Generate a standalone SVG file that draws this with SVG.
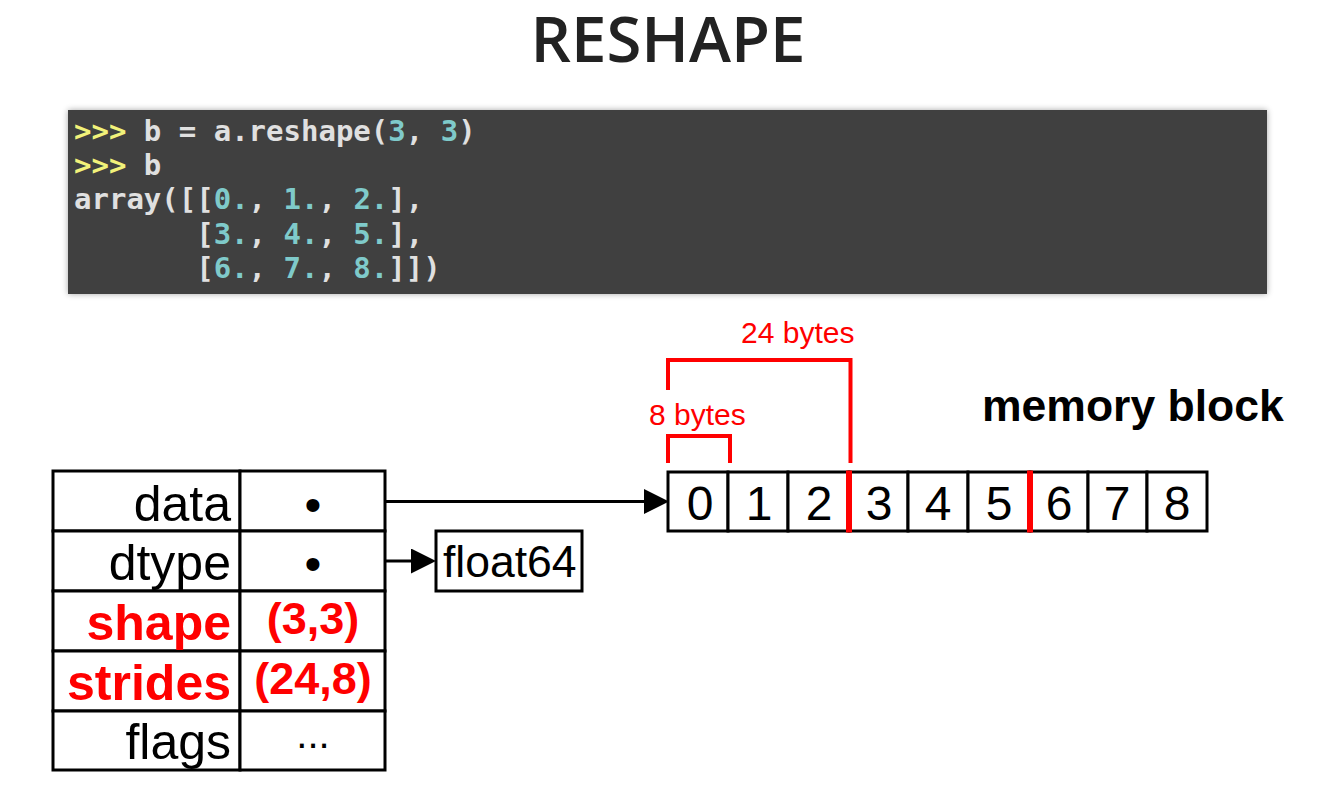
<svg xmlns="http://www.w3.org/2000/svg" width="1326" height="807" viewBox="0 0 1326 807">
<style>
.title{font-family:"Open Sans","Noto Sans",sans-serif;font-weight:600;font-size:63.5px;fill:#222}
.code{font-family:"DejaVu Sans Mono",monospace;font-weight:bold;font-size:29px;fill:#e0e0e0}
.p{fill:#f2f27a}
.n{fill:#7fcaca}
.cell{fill:#fff;stroke:#000;stroke-width:3}
.lbl{font-family:"Liberation Sans",Arial,sans-serif;font-size:50px;fill:#000;text-anchor:end}
.lblr{font-family:"Liberation Sans",Arial,sans-serif;font-size:50px;font-weight:bold;fill:#f00;text-anchor:end}
.val{font-family:"Liberation Sans",Arial,sans-serif;font-size:48px;fill:#000;text-anchor:middle}
.valr{font-family:"Liberation Sans",Arial,sans-serif;font-size:45px;font-weight:bold;fill:#f00;text-anchor:middle}
.dig{font-family:"Liberation Sans",Arial,sans-serif;font-size:48px;fill:#000;text-anchor:middle}
.red{font-family:"Liberation Sans",Arial,sans-serif;font-size:30px;fill:#f00}
.brk{fill:none;stroke:#f00;stroke-width:4}
.sep{stroke:#f00;stroke-width:6}
.conn{stroke:#000;stroke-width:3;fill:none}
</style>
<defs>
<filter id="sh" x="-5%" y="-20%" width="110%" height="140%">
<feGaussianBlur in="SourceAlpha" stdDeviation="3"/>
<feComponentTransfer><feFuncA type="linear" slope="0.35"/></feComponentTransfer>
<feMerge><feMergeNode/><feMergeNode in="SourceGraphic"/></feMerge>
</filter>
<marker id="ah" markerUnits="userSpaceOnUse" viewBox="0 0 10 10" markerWidth="25" markerHeight="25" refX="0" refY="5" orient="auto">
<path d="M0,0 L10,5 L0,10 z" fill="#000"/>
</marker>
</defs>
<rect width="1326" height="807" fill="#fff"/>
<text class="title" x="668" y="62" text-anchor="middle">RESHAPE</text>

<g id="code">
<rect x="68" y="110" width="1199" height="184" fill="#3f3f3f" filter="url(#sh)"/>
<text class="code" x="74" y="141"><tspan class="p">&gt;&gt;&gt;</tspan> b = a.reshape(<tspan class="n">3</tspan>, <tspan class="n">3</tspan>)</text>
<text class="code" x="74" y="175"><tspan class="p">&gt;&gt;&gt;</tspan> b</text>
<text class="code" x="74" y="209">array([[<tspan class="n">0.</tspan>, <tspan class="n">1.</tspan>, <tspan class="n">2.</tspan>],</text>
<text class="code" x="196.2" y="244">[<tspan class="n">3.</tspan>, <tspan class="n">4.</tspan>, <tspan class="n">5.</tspan>],</text>
<text class="code" x="196.2" y="278">[<tspan class="n">6.</tspan>, <tspan class="n">7.</tspan>, <tspan class="n">8.</tspan>]])</text>
</g>

<g id="connectors">
<line class="conn" x1="385" y1="501.5" x2="644" y2="501.5" marker-end="url(#ah)"/>
<line class="conn" x1="385" y1="561" x2="411" y2="561" marker-end="url(#ah)"/>
</g>

<g id="ndarray">
<rect class="cell" x="53" y="471" width="187" height="60"/>
<rect class="cell" x="240" y="471" width="145" height="60"/>
<rect class="cell" x="53" y="531" width="187" height="60"/>
<rect class="cell" x="240" y="531" width="145" height="60"/>
<rect class="cell" x="53" y="591" width="187" height="60"/>
<rect class="cell" x="240" y="591" width="145" height="60"/>
<rect class="cell" x="53" y="651" width="187" height="60"/>
<rect class="cell" x="240" y="651" width="145" height="60"/>
<rect class="cell" x="53" y="711" width="187" height="59"/>
<rect class="cell" x="240" y="711" width="145" height="59"/>
<text class="lbl" x="231" y="521">data</text>
<text class="lbl" x="231" y="580">dtype</text>
<text class="lblr" x="231" y="640">shape</text>
<text class="lblr" x="231" y="700">strides</text>
<text class="lbl" x="231" y="759">flags</text>
<text class="val" x="313" y="521">•</text>
<text class="val" x="313" y="580">•</text>
<text class="valr" x="313" y="634">(3,3)</text>
<text class="valr" x="313" y="694">(24,8)</text>
<text class="val" x="313" y="748" style="font-size:40px">...</text>
</g>

<g id="dtype">
<rect class="cell" x="436" y="531" width="146" height="60" stroke-width="2.5"/>
<text class="lbl" x="443" y="577" style="text-anchor:start;font-size:44.5px">float64</text>
</g>

<g id="memory">
<rect class="cell" x="668" y="472" width="60" height="59"/>
<rect class="cell" x="728" y="472" width="60" height="59"/>
<rect class="cell" x="788" y="472" width="61" height="59"/>
<rect class="cell" x="849" y="472" width="59" height="59"/>
<rect class="cell" x="908" y="472" width="60" height="59"/>
<rect class="cell" x="968" y="472" width="62" height="59"/>
<rect class="cell" x="1030" y="472" width="58" height="59"/>
<rect class="cell" x="1088" y="472" width="59" height="59"/>
<rect class="cell" x="1147" y="472" width="60" height="59"/>
<line class="sep" x1="849" y1="470.5" x2="849" y2="532.5"/>
<line class="sep" x1="1030" y1="470.5" x2="1030" y2="532.5"/>
<text class="dig" x="700" y="520">0</text>
<text class="dig" x="759" y="520">1</text>
<text class="dig" x="819" y="520">2</text>
<text class="dig" x="879" y="520">3</text>
<text class="dig" x="938" y="520">4</text>
<text class="dig" x="999" y="520">5</text>
<text class="dig" x="1059" y="520">6</text>
<text class="dig" x="1117" y="520">7</text>
<text class="dig" x="1177" y="520">8</text>
<text x="982" y="421" style="font-family:'Liberation Sans',Arial,sans-serif;font-size:44.5px;font-weight:bold;fill:#000">memory block</text>
</g>

<g id="strides-annotation">
<path class="brk" d="M668,463 V436 H730 V463"/>
<path class="brk" d="M668,390 V360 H850.5 V463"/>
<text class="red" x="649" y="425">8 bytes</text>
<text class="red" x="741" y="343">24 bytes</text>
</g>
</svg>
